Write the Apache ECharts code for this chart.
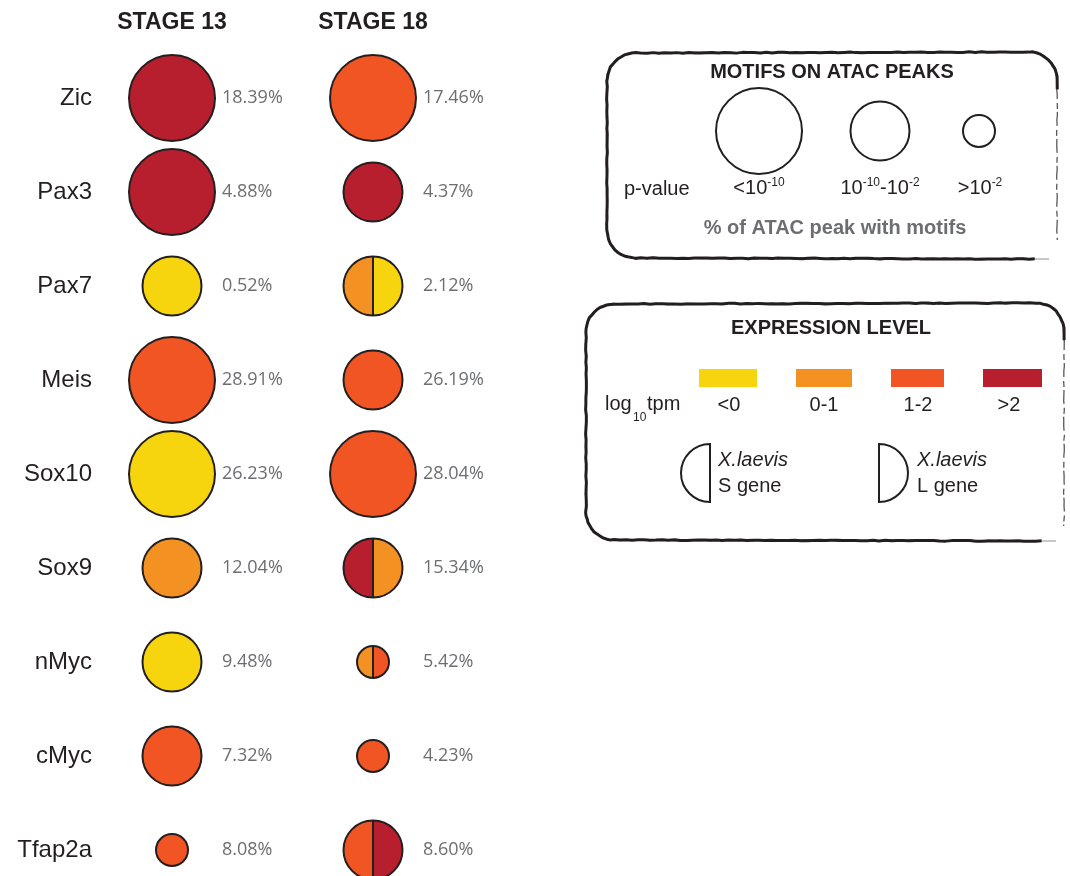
<!DOCTYPE html>
<html>
<head>
<meta charset="utf-8">
<script src="https://cdn.jsdelivr.net/npm/echarts@6/dist/echarts.min.js"></script>
<style>
  html, body { margin: 0; padding: 0; background: #ffffff; }
  #chart { width: 1070px; height: 876px; }
</style>
</head>
<body>
<div id="chart"></div>
<script>
// Genes (rows) and developmental stages (columns)
const genes = ['Zic', 'Pax3', 'Pax7', 'Meis', 'Sox10', 'Sox9', 'nMyc', 'cMyc', 'Tfap2a'];
const stages = ['STAGE 13', 'STAGE 18'];

// Motif enrichment p-value class: 0 = <1e-10, 1 = 1e-10..1e-2, 2 = >1e-2
const pClass13 = [0, 0, 1, 0, 0, 1, 1, 1, 2];
const pClass18 = [0, 1, 1, 1, 0, 1, 2, 2, 1];

// Expression class (log10 tpm): 0 = <0, 1 = 0-1, 2 = 1-2, 3 = >2 ; pairs are [S gene, L gene]
const expr13 = [[3, 3], [3, 3], [0, 0], [2, 2], [0, 0], [1, 1], [0, 0], [2, 2], [2, 2]];
const expr18 = [[2, 2], [3, 3], [1, 0], [2, 2], [2, 2], [3, 1], [1, 2], [2, 2], [2, 3]];

// % of ATAC peaks carrying the motif
const pct13 = [18.39, 4.88, 0.52, 28.91, 26.23, 12.04, 9.48, 7.32, 8.08];
const pct18 = [17.46, 4.37, 2.12, 26.19, 28.04, 15.34, 5.42, 4.23, 8.60];

// Legend tick labels
const exprLabels = ['<0', '0-1', '1-2', '>2'];
const pLabels = ['{n|<10}{s|-10}', '{n|10}{s|-10}{n|-10}{s|-2}', '{n|>10}{s|-2}'];

// Styling
const EXPR_COLORS = ['#F6D50F', '#F39223', '#F05523', '#B71F2E'];
const RADIUS = [43, 29.5, 16];
const INK = '#231F20';
const GREY = '#6D6E71';
const SANS = '"Liberation Sans", Arial, sans-serif';

const seriesData = [];
genes.forEach((g, i) => {
  seriesData.push([0, i, pClass13[i], expr13[i][0], expr13[i][1], pct13[i]]);
  seriesData.push([1, i, pClass18[i], expr18[i][0], expr18[i][1], pct18[i]]);
});

function renderItem(params, api) {
  const p = api.coord([api.value(0), api.value(1)]);
  const cx = p[0], cy = p[1];
  const r = RADIUS[api.value(2)];
  const s = api.value(3), l = api.value(4);
  const children = [];
  if (s === l) {
    children.push({ type: 'circle', shape: { cx, cy, r },
      style: { fill: EXPR_COLORS[s], stroke: INK, lineWidth: 2 } });
  } else {
    // left half = S homeolog, right half = L homeolog
    children.push({ type: 'sector', shape: { cx, cy, r0: 0, r, startAngle: Math.PI / 2, endAngle: Math.PI * 1.5 },
      style: { fill: EXPR_COLORS[s] } });
    children.push({ type: 'sector', shape: { cx, cy, r0: 0, r, startAngle: -Math.PI / 2, endAngle: Math.PI / 2 },
      style: { fill: EXPR_COLORS[l] } });
    children.push({ type: 'line', shape: { x1: cx, y1: cy - r, x2: cx, y2: cy + r },
      style: { stroke: INK, lineWidth: 2 } });
    children.push({ type: 'circle', shape: { cx, cy, r },
      style: { fill: 'none', stroke: INK, lineWidth: 2 } });
  }
  children.push({ type: 'text', x: cx + 50, y: cy,
    style: { text: api.value(5).toFixed(2) + '%', fill: GREY, font: '18px "Open Sans", sans-serif',
      align: 'left', verticalAlign: 'middle' } });
  return { type: 'group', children };
}

// small deterministic jitter for the hand-inked frame strokes
const jit = (i, k) => {
  const v = Math.sin(i * 12.9898 + k * 78.233) * 43758.5453;
  return (v - Math.floor(v)) - 0.5;
};

// Hand-inked frame: heavy stroke along bottom, left, top and the upper-right corner,
// a light broken stroke down the right side.
function roughFrame(x, y, w, h, r, k) {
  const pts = [];
  const seg = (x1, y1, x2, y2) => {
    const n = Math.max(2, Math.round(Math.hypot(x2 - x1, y2 - y1) / 6));
    for (let i = 0; i < n; i++) { const t = i / n; pts.push([x1 + (x2 - x1) * t, y1 + (y2 - y1) * t]); }
  };
  const arc = (ax, ay, a0, a1) => {
    for (let i = 0; i < 12; i++) { const a = a0 + (a1 - a0) * i / 12; pts.push([ax + r * Math.cos(a), ay + r * Math.sin(a)]); }
  };
  seg(x + w - 22, y + h + 1, x + r, y + h);
  arc(x + r, y + h - r, Math.PI / 2, Math.PI);
  seg(x, y + h - r, x, y + r);
  arc(x + r, y + r, Math.PI, Math.PI * 1.5);
  seg(x + r, y, x + w - r, y - 1);
  arc(x + w - r, y + r - 1, -Math.PI / 2, 0);
  pts.push([x + w, y + r + 8]);
  const wob = (kk, a) => pts.map((q, i) => [q[0] + a * jit(i, kk), q[1] + a * jit(i + 500, kk)]);
  const right = [];
  for (let yy = y + r + 4; yy <= y + h - 14; yy += 5) right.push([x + w + 0.8 * jit(yy, k), yy]);
  return [
    { type: 'polyline', silent: true, shape: { points: wob(k, 0.8) }, style: { stroke: INK, lineWidth: 3, fill: null, lineJoin: 'round' } },
    { type: 'polyline', silent: true, shape: { points: wob(k + 3, 1.4) }, style: { stroke: INK, lineWidth: 1.2, fill: null, opacity: 0.8 } },
    { type: 'polyline', silent: true, shape: { points: right }, style: { stroke: INK, lineWidth: 1.3, fill: null, lineDash: [14, 4, 6, 3], opacity: 0.75 } },
    { type: 'line', silent: true, shape: { x1: x + w - 22, y1: y + h + 1, x2: x + w - 8, y2: y + h + 1 }, style: { stroke: INK, lineWidth: 1, opacity: 0.5 } }
  ];
}

const txt = (x, y, text, opts) => ({
  type: 'text', x, y, silent: true,
  style: Object.assign({ text, fill: INK, font: '20px ' + SANS, align: 'center', verticalAlign: 'middle' }, opts || {})
});

const graphics = [];
// Motif legend
graphics.push(...roughFrame(607, 53, 450, 205, 28, 1));
graphics.push(txt(832, 72, 'MOTIFS ON ATAC PEAKS', { font: 'bold 20px ' + SANS }));
[[759, 0], [880, 1], [979, 2]].forEach(([x, k]) => {
  graphics.push({ type: 'circle', shape: { cx: x, cy: 131, r: RADIUS[k] }, style: { fill: '#fff', stroke: INK, lineWidth: 2 } });
});
graphics.push(txt(624, 189, 'p-value', { align: 'left' }));
[759, 880, 980].forEach((x, k) => {
  graphics.push(txt(x, 188, pLabels[k], {
    rich: {
      n: { fontSize: 20, fontFamily: SANS, lineHeight: 22, fill: INK },
      s: { fontSize: 12, fontFamily: SANS, lineHeight: 12, verticalAlign: 'top', fill: INK }
    }
  }));
});
graphics.push(txt(835, 228, '% of ATAC peak with motifs', { font: 'bold 20px ' + SANS, fill: GREY }));

// Expression legend
graphics.push(...roughFrame(586, 304, 478, 236, 28, 2));
graphics.push(txt(831, 328, 'EXPRESSION LEVEL', { font: 'bold 20px ' + SANS }));
const rectX = [[699, 757], [796, 852], [891, 944], [983, 1042]];
const labelX = [729, 824, 918, 1009];
rectX.forEach(([a, b], k) => {
  graphics.push({ type: 'rect', shape: { x: a, y: 369, width: b - a, height: 18 }, style: { fill: EXPR_COLORS[k] } });
  graphics.push(txt(labelX[k], 405, exprLabels[k]));
});
graphics.push(txt(605, 404, 'log', { align: 'left' }));
graphics.push(txt(633, 418, '10', { align: 'left', font: '12px ' + SANS }));
graphics.push(txt(647, 404, 'tpm', { align: 'left' }));
graphics.push({ type: 'sector', shape: { cx: 710, cy: 473, r0: 0, r: 29, startAngle: Math.PI / 2, endAngle: Math.PI * 1.5 },
  style: { fill: '#fff', stroke: INK, lineWidth: 2 } });
graphics.push({ type: 'sector', shape: { cx: 879, cy: 473, r0: 0, r: 29, startAngle: -Math.PI / 2, endAngle: Math.PI / 2 },
  style: { fill: '#fff', stroke: INK, lineWidth: 2 } });
graphics.push(txt(718, 460, 'X.laevis', { align: 'left', font: 'italic 20px ' + SANS }));
graphics.push(txt(718, 486, 'S gene', { align: 'left' }));
graphics.push(txt(917, 460, 'X.laevis', { align: 'left', font: 'italic 20px ' + SANS }));
graphics.push(txt(917, 486, 'L gene', { align: 'left' }));

const chart = echarts.init(document.getElementById('chart'));
chart.setOption({
  animation: false,
  backgroundColor: '#ffffff',
  grid: { left: 172, right: 697, top: 98, bottom: 26, containLabel: false },
  xAxis: {
    type: 'category', data: stages, position: 'top', boundaryGap: false,
    axisLine: { show: false }, axisTick: { show: false }, splitLine: { show: false },
    axisLabel: { color: INK, fontFamily: SANS, fontWeight: 'bold', fontSize: 23, margin: 75, verticalAlign: 'middle', interval: 0 }
  },
  yAxis: {
    type: 'category', data: genes, inverse: true, boundaryGap: false,
    axisLine: { show: false }, axisTick: { show: false }, splitLine: { show: false },
    axisLabel: { color: INK, fontFamily: SANS, fontSize: 24, margin: 80, interval: 0 }
  },
  series: [{
    type: 'custom', renderItem, data: seriesData, clip: false,
    encode: { x: 0, y: 1 }
  }],
  graphic: { elements: graphics }
});
</script>
</body>
</html>
